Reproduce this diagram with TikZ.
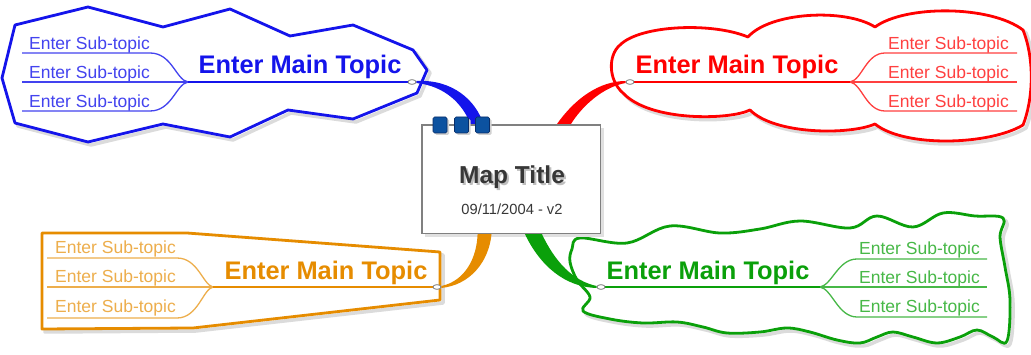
\documentclass[tikz,border=0pt]{standalone}
\usepackage{fontspec}
\setmainfont{Liberation Sans}
\usetikzlibrary{shapes.geometric,calc}
\definecolor{cblue}{RGB}{20,20,235}
\definecolor{cred}{RGB}{255,0,0}
\definecolor{corange}{RGB}{230,140,0}
\definecolor{cgreen}{RGB}{10,160,10}
\definecolor{sqblue}{RGB}{12,82,160}
\definecolor{sqedge}{RGB}{8,45,105}
\definecolor{titlegray}{RGB}{55,55,55}
\begin{document}
\begin{tikzpicture}[x=1pt,y=-1pt,
  maintxt/.style={font=\fontsize{25.4}{29}\selectfont\bfseries, inner sep=0pt, anchor=base},
  subtxt/.style={font=\fontsize{17.5}{20}\selectfont, inner sep=0pt, anchor=base west},
  shapeline/.style={line width=2.8pt, line join=round, fill=white},
  shadowline/.style={line width=3.5pt, draw=black!14, line join=round},
  oval/.style={ellipse, draw=gray, fill=white, line width=0.7pt, minimum width=8pt, minimum height=4.5pt, inner sep=0pt},
  subline/.style={line width=1.3pt},
  mainline/.style={line width=1.6pt},
  sq/.style={rectangle, rounded corners=1.5pt, fill=sqblue, draw=sqedge, line width=0.6pt, minimum width=14pt, minimum height=16pt, inner sep=0pt},
  titlebox/.style={rectangle, draw=black!50, fill=white, line width=0.8pt, minimum width=178pt, minimum height=108pt, inner sep=0pt}
]
\useasboundingbox[fill=white] (0,0) rectangle (1031,355);

% ---------- shape outlines ----------
\def\bluepath{(15,25) -- (88,7) -- (163,27) -- (230,9) -- (290,36) -- (353,25) -- (413,50) -- (427,70) -- (417,93) -- (353,119) -- (288,110) -- (230,137) -- (163,124) -- (88,142) -- (15,123) -- (2,78) -- cycle}
\def\redpath{(620,45) .. controls (640,25) and (712,22) .. (748,37)
  .. controls (770,12) and (845,8) .. (875,27)
  .. controls (905,5) and (990,5) .. (1023,30)
  .. controls (1035,60) and (1033,100) .. (1023,125)
  .. controls (990,145) and (905,148) .. (875,124)
  .. controls (850,135) and (775,135) .. (750,110)
  .. controls (730,120) and (650,122) .. (623,93)
  .. controls (608,80) and (608,55) .. (620,45) -- cycle}
\def\orangepath{(42,233) -- (187,233) -- (440,252) -- (440,300) -- (193,328) -- (42,329) -- cycle}
\def\greenpath{plot[smooth cycle, tension=0.6] coordinates {
  (580,238) (627,243) (670,226) (720,233) (760,229) (800,221) (850,228) (877,216) (913,227) (943,213) (975,216) (1003,218)
  (1000,237) (1005,267) (1010,300) (1007,341)
  (993,337) (977,330) (960,337) (937,343) (913,337) (893,332) (877,337) (860,343) (837,340) (810,332) (787,328) (760,332) (727,333) (703,327) (677,322) (643,323) (610,319) (583,311)
  (590,297) (577,280) (570,262) (572,249)}}

\draw[shadowline, shift={(3,3)}] \bluepath;
\draw[shadowline, shift={(3,3)}] \redpath;
\draw[shadowline, shift={(3,3)}] \orangepath;
\draw[shadowline, shift={(3,3)}] \greenpath;
\draw[shapeline, draw=cblue] \bluepath;
\draw[shapeline, draw=cred] \redpath;
\draw[shapeline, draw=corange] \orangepath;
\draw[shapeline, draw=cgreen] \greenpath;

% ---------- central title box ----------
\node[titlebox, draw=black!12, fill=black!12] at (514,182) {};
\node[titlebox] (title) at (511,179) {};

% ---------- connection ovals ----------
\node[oval] (bo) at (412,82) {};
\node[oval] (ro) at (630,82) {};
\node[oval] (oo) at (437,287) {};
\node[oval] (go) at (601,287) {};

% ---------- tapered connectors ----------
\coordinate (bA) at ($(title.north west)+(49,0)$);
\coordinate (bB) at ($(title.north west)+(62,0)$);
\coordinate (rA) at ($(title.north west)+(135,0)$);
\coordinate (rB) at ($(title.north west)+(149,0)$);
\coordinate (oA) at ($(title.south west)+(56,0)$);
\coordinate (oB) at ($(title.south west)+(70,0)$);
\coordinate (gA) at ($(title.south west)+(103,0)$);
\coordinate (gB) at ($(title.south west)+(120,0)$);
\fill[cblue] ($(bo.east)+(0,-1)$) .. controls (452,79) and (476,100) .. (bB) -- (bA) .. controls (463,104) and (445,86) .. ($(bo.east)+(0,1)$) -- cycle;
\fill[cred] ($(ro.west)+(0,-1)$) .. controls (600,81) and (575,98) .. (rA) -- (rB) .. controls (582,106) and (603,87) .. ($(ro.west)+(0,1)$) -- cycle;
\fill[corange] ($(oo.east)+(0,1)$) .. controls (470,285) and (489,262) .. (oB) -- (oA) .. controls (477,258) and (465,281) .. ($(oo.east)+(0,-1)$) -- cycle;
\fill[cgreen] (gA) .. controls (540,266) and (565,287) .. ($(go.west)+(0,1)$) -- ($(go.west)+(0,-1)$) .. controls (573,281) and (555,262) .. (gB) -- cycle;

% redraw the box edges over the connector ends
\draw[black!50, line width=0.8pt] (title.north west) rectangle (title.south east);

% ---------- binder squares ----------
\foreach \x/\n in {440/s1,461.5/s2,482.5/s3}{
  \node[sq, fill=black!18, draw=none] at (\x+2,127) {};
  \node[sq] (\n) at (\x,125) {};
}

% ---------- title text ----------
\node[font=\fontsize{24.5}{28}\selectfont\bfseries, text=black!25, inner sep=0pt, anchor=base] at (514,186) {Map Title};
\node[font=\fontsize{24.5}{28}\selectfont\bfseries, text=titlegray, inner sep=0pt, anchor=base] (mt) at (512,184) {Map Title};
\node[font=\fontsize{14.7}{17}\selectfont, text=titlegray, inner sep=0pt, anchor=base] (dt) at (512,215) {09/11/2004 - v2};

% ---------- blue topic ----------
\coordinate (bbr) at (188,82);
\draw[subline, cblue!80!white] (22,53) -- (150,53) .. controls (172,53) and (176,80) .. (bbr);
\draw[subline, cblue!80!white] (22,82) -- (bbr);
\draw[subline, cblue!80!white] (22,111) -- (150,111) .. controls (172,111) and (176,84) .. (bbr);
\draw[mainline, cblue] (bbr) -- (bo.west);
\node[maintxt, text=cblue] (bm) at (300,74) {Enter Main Topic};
\node[subtxt, text=cblue!80!white] (bs1) at (29,50) {Enter Sub-topic};
\node[subtxt, text=cblue!80!white] (bs2) at (29,79) {Enter Sub-topic};
\node[subtxt, text=cblue!80!white] (bs3) at (29,108) {Enter Sub-topic};

% ---------- red topic ----------
\coordinate (rbr) at (850,82);
\draw[subline, cred!75!white] (rbr) .. controls (862,80) and (866,53) .. (885,53) -- (1017,53);
\draw[subline, cred!75!white] (rbr) -- (1017,82);
\draw[subline, cred!75!white] (rbr) .. controls (862,84) and (866,111) .. (885,111) -- (1017,111);
\draw[mainline, cred] (ro.east) -- (rbr);
\node[maintxt, text=cred] (rm) at (737,74) {Enter Main Topic};
\node[subtxt, text=cred!75!white] (rs1) at (888,50) {Enter Sub-topic};
\node[subtxt, text=cred!75!white] (rs2) at (888,79) {Enter Sub-topic};
\node[subtxt, text=cred!75!white] (rs3) at (888,108) {Enter Sub-topic};

% ---------- orange topic ----------
\coordinate (obr) at (213,287);
\draw[subline, corange!70!white] (47,258) -- (177,258) .. controls (198,258) and (203,285) .. (obr);
\draw[subline, corange!70!white] (47,287) -- (obr);
\draw[subline, corange!70!white] (47,318) -- (177,318) .. controls (198,318) and (203,289) .. (obr);
\draw[mainline, corange] (obr) -- (oo.west);
\node[maintxt, text=corange] (om) at (326,280) {Enter Main Topic};
\node[subtxt, text=corange!70!white] (os1) at (55,254) {Enter Sub-topic};
\node[subtxt, text=corange!70!white] (os2) at (55,283) {Enter Sub-topic};
\node[subtxt, text=corange!70!white] (os3) at (55,313) {Enter Sub-topic};

% ---------- green topic ----------
\coordinate (gbr) at (820,287);
\draw[subline, cgreen!75!white] (gbr) .. controls (832,285) and (838,259) .. (857,259) -- (987,259);
\draw[subline, cgreen!75!white] (gbr) -- (987,287);
\draw[subline, cgreen!75!white] (gbr) .. controls (832,289) and (838,317) .. (857,317) -- (987,317);
\draw[mainline, cgreen] (go.east) -- (gbr);
\node[maintxt, text=cgreen] (gm) at (708,280) {Enter Main Topic};
\node[subtxt, text=cgreen!75!white] (gs1) at (859,255) {Enter Sub-topic};
\node[subtxt, text=cgreen!75!white] (gs2) at (859,284) {Enter Sub-topic};
\node[subtxt, text=cgreen!75!white] (gs3) at (859,313) {Enter Sub-topic};

% ovals on top
\node[oval] at (bo) {};
\node[oval] at (ro) {};
\node[oval] at (oo) {};
\node[oval] at (go) {};
\end{tikzpicture}
\end{document}
